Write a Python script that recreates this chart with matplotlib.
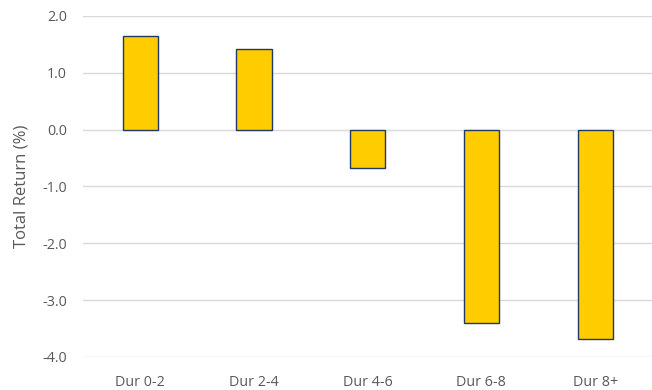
import numpy as np
import matplotlib.pyplot as plt

categories = ["Dur 0-2", "Dur 2-4", "Dur 4-6", "Dur 6-8", "Dur 8+"]
total_return = [1.65, 1.42, -0.68, -3.41, -3.69]
yticks = [-4.0, -3.0, -2.0, -1.0, 0.0, 1.0, 2.0]

plt.rcParams["font.family"] = ["Open Sans", "DejaVu Sans"]

fig = plt.figure(figsize=(6.52, 3.9), dpi=100)
ax = fig.add_axes([0.128, 0.085, 0.872, 0.874])

x = np.arange(len(categories))
ax.bar(x, total_return, width=0.31, color="#FFCC00", edgecolor="#1F3864",
       linewidth=1.0, zorder=3)

ax.set_xlim(-0.5, len(categories) - 0.5)
ax.set_ylim(-4.0, 2.0)
ax.set_yticks(yticks)
ax.set_yticklabels([f"{v:.1f}" for v in yticks])
ax.set_xticks(x)
ax.set_xticklabels(categories)

ax.grid(axis="y", color="#D9D9D9", linewidth=1.0, zorder=0)
for s in ax.spines.values():
    s.set_visible(False)
ax.tick_params(length=0, labelsize=10.3, labelcolor="#595959")
ax.tick_params(axis="x", pad=13)
ax.tick_params(axis="y", pad=12)
ax.set_ylabel("Total Return (%)", fontsize=12, color="#595959", labelpad=9)

fig.savefig("out.png", dpi=100)
